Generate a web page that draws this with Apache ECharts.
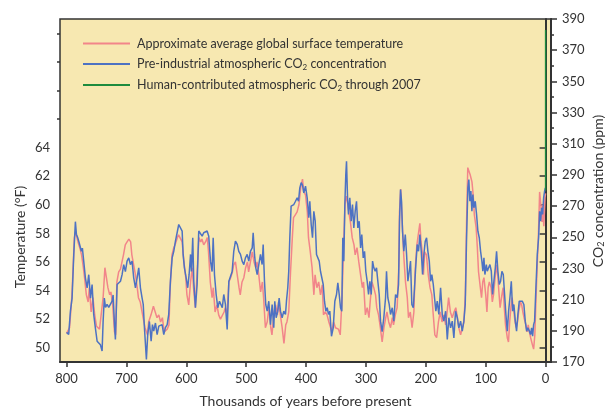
<!DOCTYPE html>
<html><head><meta charset="utf-8">
<script src="https://cdn.jsdelivr.net/npm/echarts@6/dist/echarts.min.js"></script>
<style>html,body{margin:0;padding:0;background:#fff}#c{width:608px;height:408px}</style>
</head><body><div id="c"></div>
<script>
// Temperature (°F), thousands of years before present
const tempAges = [800,795,791,787,785,781,778,775,772,770,767,764,762,759,756,753,750,748,745,742,739,736,734,731,728,726,723,720,718,716,713,710,707,705,702,699,696,693,691,688,685,682,680,677,674,672,669,665,663,659,655,652,649,646,643,640,637,635,632,629,627,624,621,618,615,613,610,607,604,601,599,596,593,590,588,585,582,579,576,574,571,568,565,563,560,557,555,552,549,546,543,540,537,535,532,529,526,523,521,518,515,512,510,507,504,501,498,496,493,490,487,484,482,479,476,473,471,468,465,462,459,457,454,451,448,446,443,440,437,434,432,429,426,423,421,418,415,412,409,406,404,401,398,396,393,390,387,385,382,379,376,373,371,368,365,362,359,357,354,351,348,346,343,340,337,335,333,331,328,326,323,320,318,315,312,309,306,304,301,298,295,293,290,287,284,282,279,276,273,270,267,265,262,259,256,254,251,248,245,244,242,240,237,234,231,229,226,223,220,218,215,212,210,208,206,204,202,199,196,193,190,188,185,182,179,176,173,170,167,165,162,159,156,153,150,148,145,142,139,136.5,134,132,130,128,126,123,121,119,116,114,112,109,107,105,103,100,98,96,94,91,89,87,85,82,80,78,76,73,71,69,67,64,62,60,58,56,53,51,49,47,45,42,40,38,36,33,31,29,27,25,22,20,18,16,14,12,10,8,6,5,3,1,0];
const tempValues = [51.0,51.4,53.7,57.7,58.1,57.4,57.0,56.5,55.6,54.9,53.7,53.2,54.2,52.5,53.5,52.3,51.5,51.4,51.3,51.3,53.5,55.6,55.5,54.2,53.7,53.9,53.0,51.1,50.9,54.6,55.3,55.5,55.6,56.5,57.2,57.4,57.6,57.4,56.5,55.8,55.1,54.2,53.5,53.2,52.5,52.5,51.4,50.9,51.8,52.3,52.9,52.5,52.1,52.3,51.8,52.1,51.1,51.0,51.3,51.6,54.2,56.5,57.0,57.3,57.7,57.9,57.8,57.4,56.0,54.9,53.7,53.0,54.6,55.6,54.2,52.8,55.3,57.7,57.4,57.6,57.2,57.4,57.7,56.7,54.6,53.5,54.2,52.5,53.0,52.3,52.0,52.1,52.5,52.8,52.3,54.6,54.9,55.3,55.8,56.0,55.1,54.2,53.7,54.6,54.9,55.6,56.0,55.3,56.0,56.7,56.0,55.6,56.0,55.1,53.9,54.6,53.5,51.4,51.8,52.8,51.4,50.9,52.3,53.0,52.3,53.2,52.3,51.4,50.3,51.6,51.8,52.5,55.3,57.7,59.1,59.3,59.5,60.0,61.2,61.8,60.9,60.7,59.5,57.7,56.7,55.6,53.7,55.1,54.2,54.6,53.7,54.4,52.3,52.5,52.3,51.8,51.4,51.1,51.8,51.4,51.5,51.3,50.9,53.5,57.5,60.0,60.6,60.2,59.3,58.8,57.7,57.2,56.5,57.0,56.0,55.1,54.2,54.6,52.3,52.8,52.1,53.2,54.6,54.2,53.7,52.8,52.3,51.4,50.4,51.4,52.1,52.5,51.8,51.4,52.1,51.6,52.3,52.8,55.8,59.5,61.1,59.3,56.5,54.6,53.5,52.1,52.5,51.4,52.5,55.3,57.2,58.1,58.7,57.4,56.7,55.1,56.7,56.5,55.1,54.2,53.7,52.5,50.9,50.7,51.8,52.5,51.8,52.3,51.6,52.3,53.5,52.5,52.1,52.5,52.8,52.3,51.4,50.9,50.9,51.8,53.7,58.8,62.6,62.7,62.1,61.6,60.7,59.3,58.4,57.0,55.3,54.2,53.5,54.6,54.9,53.7,52.5,54.2,54.6,54.2,53.2,53.7,54.6,55.8,55.1,53.9,52.8,53.7,54.2,52.8,51.6,50.7,50.4,51.8,52.8,53.5,52.5,51.8,51.4,51.8,52.5,53.2,53.0,52.5,52.1,51.6,51.1,51.6,51.1,50.7,50.2,49.9,50.9,53.5,55.8,57.9,60.9,60.0,58.8,60.0,58.5,60.5,60.8];

// Pre-industrial CO2 (ppm)
const co2Ages = [800,796.5,793.6,790.8,788,785.3,783.6,781.4,779,777,775.3,773.6,771.4,768.6,765.7,763,760,757.4,754.7,752,749,746.4,743.5,740.7,739,737,735,732.4,729.6,726.8,724,722.3,720,718.5,715.6,712.8,710,707.3,704.6,701.8,699,696.2,693.4,690.6,687.9,685,682.2,679.5,676.7,673.9,672,670,666.7,664.5,661.7,658.8,656.6,654.5,651.6,648.8,646,643.3,640.5,637.7,635,632,629.4,626.6,623.7,621,618.2,615.4,612.7,609.9,607,605.4,603.2,600.3,597.7,595.4,593,591.5,589.3,587.6,584.8,582,579.3,576.4,573.6,571,568,565.3,562.6,559.7,557,555.2,553,550.2,547.5,544.7,540,537.5,534.7,531.8,529,526.3,523.5,520.8,518,515,512.4,509.6,506.8,504,501.3,498.4,495.7,493,490,488.4,486.2,484,481.7,479,476.2,473.4,471.7,469.5,467.4,465,462.3,459.5,456.7,454,452.3,450,447.3,445,442.8,440,437.3,434.4,432.8,430.6,429,427.2,425,422.7,420.5,417.7,414.9,412.7,410.5,408.2,406,403.8,401,398.2,395.5,393.8,391.5,389.3,387.1,384.8,382.6,380.5,378.1,376,373.8,371.4,369.3,367,364.8,362.6,360.4,357.6,354.7,352,349.2,347,344.7,342.5,340.4,338.7,337,335.3,333.7,332.5,330.8,329.2,327,324.7,322.5,320.3,318,315.8,313.6,311.3,309,307,304.6,302.4,300.3,298,295.7,293.5,291.2,289,286.9,284.6,282.4,280.2,277.9,275.7,273,270.2,267.3,265.7,263.5,261.2,259,256.1,253.5,250.6,247.8,245.6,244,242.3,240.6,239,236.8,234.4,232.2,230,227.7,225.6,223.4,221,218.9,216.7,214.4,212.2,210,207.7,205.5,203.3,201,198.8,196.6,194.3,192.1,190,187.6,185.5,183.3,181,178.3,175.4,172.6,170,167,164.2,161.6,158.7,155.9,153.2,150.4,147.5,144.9,142,139.2,136.5,134.2,132,129.8,128.2,126.5,124.8,123.1,121.5,119.8,117.5,115.3,113.1,110.8,108.6,106.4,104.8,103,101.4,99,97.4,95.2,93,90.7,88.6,86.4,84,81.9,79.7,77.4,75.2,73,70.7,68.5,66.3,64,61.8,59.6,57.3,55.1,53,50.6,48.5,46.3,44,41.8,39,36.3,34,31.7,29.6,27.2,25.1,23.4,21.7,20,18.4,16.2,13.9,11.7,10,8.4,6.7,5,3.3,1.7,0.5];
const co2Values = [189,187.6,202.6,211,239,260,252,249.7,246.5,247.5,241,243,234.7,224,217.6,226,211,219.7,200.5,192,183.3,182.3,181,177,196,211,205,207,205,206,209,213,194,184.4,219.7,218.6,221.8,226,232.5,228,234.7,236.8,232.5,234.7,224,217.6,224,230.4,217.6,211,207,192,171.6,187.6,196,183.3,194,189.8,195,187.6,193,192,194,187.6,192,194,200.5,221.8,236.8,241,247.5,252.9,258.2,259.3,254,239,230.4,224,217.6,226,239,228,249.7,221.8,204.8,219.7,254,252.9,250.7,252.9,251.8,254,250.7,234.7,228,249.7,226,213.3,204.8,209,204.8,213.3,206.9,190.8,221.8,220.8,228,241,247.5,245.4,241,239,234.7,232.5,236.8,239,234.7,241,243.2,252.9,239,230.4,226,232.5,239,232.5,245.4,221.8,206.9,202.6,209,194,206.9,192,209,198.4,202.6,211,202.6,198.4,202.6,200.5,209,217.6,228,249.7,270,268.9,271,273.1,275.3,273.1,281.7,285,283.5,278.5,282.8,275.3,262.5,273.1,258.2,249.7,266.7,260.3,239,239,234.7,228.2,229.3,219.7,209,202.6,204.8,200.5,202.6,186.5,191.9,209,213.3,220.8,213.3,204.8,202.6,249.7,234.7,271,290.3,298.8,275.3,264.6,275.3,260.3,271,256,266.7,273.1,256,260.3,243.2,251.8,236.8,241,228.2,221.8,213.3,221.8,213.3,234.7,230.4,228.2,230.4,221.8,213.3,196.2,189.5,198.4,211.2,228.2,211.2,206.9,200.5,204.8,196.2,213.3,211.2,219.7,260.3,280.6,273.1,253.9,241,251.8,239,221.8,228.2,234.7,206.9,204.8,217.6,232.5,245.4,241,251.8,241,226.1,239,247.5,249.7,241,234.7,221.8,226.1,219.7,211.2,202.6,209,200.5,217.6,200.5,196.2,202.6,184.4,198.4,191.9,196.2,185.5,202.6,198.4,191.9,196.2,189.8,196.2,206.9,249.7,281.7,287,273.1,279.6,266.7,277.4,268.9,273.1,264.6,253.9,249.7,241,234.7,228.2,236.8,226.1,232.5,228.2,230.4,232.5,228.2,213.3,221.8,230.4,241,228.2,219.7,221.8,228.2,226.1,213.3,200.5,189.8,202.6,211.2,221.8,202.6,206.9,196.2,189.8,200.5,209,209,209,206.9,196.2,189.8,191.9,189.8,187.6,191.9,186.5,194,196.2,217.6,239,249.7,266.7,260.3,268.9,264.6,275.3,279.6,281.7];

// Human-contributed CO2 through 2007
const humanAges = [0, 0];
const humanValues = [280, 383];

// Tick labels
const xTickValues = [0,100,200,300,400,500,600,700,800];
const tempTickValues = [50,52,54,56,58,60,62,64];
const tempMinorTickValues = [66,68,70,72];
const co2TickValues = [170,190,210,230,250,270,290,310,330,350,370,390];
const co2MinorTickValues = [180,200,220,240,260,280,300,320,340,360,380];

const FONT = 'Lato';
const TXT = '#333';
const pairs = (a, b) => a.map((v, i) => [v, b[i]]);

const legendNames = {
  temp: '{a|Approximate average global surface temperature}',
  co2: '{a|Pre-industrial atmospheric CO}{s|2}{a| concentration}',
  human: '{a|Human-contributed atmospheric CO}{s|2}{a| through 2007}'
};

const chart = echarts.init(document.getElementById('c'), null, {renderer: 'canvas'});
chart.setOption({
  animation: false,
  backgroundColor: '#ffffff',
  textStyle: {fontFamily: FONT, color: TXT},
  grid: {left: 60, right: 57, top: 19, bottom: 46, show: true, backgroundColor: '#F7E8B1', borderColor: '#333', borderWidth: 1.5, containLabel: false, outerBoundsMode: 'none'},
  legend: {
    orient: 'vertical', left: 78, top: 32, itemWidth: 47, itemHeight: 2, itemGap: 7.5, icon: 'rect',
    data: ['temp', 'co2', 'human'],
    formatter: n => legendNames[n],
    textStyle: {padding: [0, 0, 0, 2], rich: {
      a: {fontFamily: FONT, fontSize: 12.5, color: TXT, lineHeight: 14},
      s: {fontFamily: FONT, fontSize: 8, color: TXT, lineHeight: 8, verticalAlign: 'bottom'}
    }}
  },
  graphic: [{
    type: 'text', x: 20, y: 237, rotation: Math.PI / 2,
    style: {text: 'Temperature (°F)', fontFamily: FONT, fontSize: 14, fill: TXT, align: 'center', verticalAlign: 'middle'}
  }, {
    type: 'text', x: 598, y: 191, rotation: Math.PI / 2,
    style: {
      text: '{a|CO}{s|2}{a| concentration (ppm)}', align: 'center', verticalAlign: 'middle',
      rich: {
        a: {fontFamily: FONT, fontSize: 14, fill: TXT, lineHeight: 16},
        s: {fontFamily: FONT, fontSize: 9, fill: TXT, lineHeight: 9, verticalAlign: 'bottom'}
      }
    }
  }],
  xAxis: {
    type: 'value', inverse: true, min: -9, max: 811,
    name: 'Thousands of years before present', nameLocation: 'middle', nameGap: 32,
    nameTextStyle: {fontFamily: FONT, fontSize: 14, color: TXT},
    axisLine: {lineStyle: {color: '#333', width: 2}},
    axisTick: {customValues: xTickValues, length: 5, lineStyle: {color: '#333', width: 1.5}},
    axisLabel: {customValues: xTickValues, margin: 10, fontFamily: FONT, fontSize: 13, color: TXT},
    splitLine: {show: false}
  },
  yAxis: [{
    type: 'value', position: 'left', min: 49, max: 73,
    axisLine: {show: true, lineStyle: {color: '#333', width: 2}},
    axisTick: {show: true, customValues: tempTickValues, length: 6, lineStyle: {color: '#333', width: 1.5}},
    axisLabel: {customValues: tempTickValues, margin: 10, fontFamily: FONT, fontSize: 13, color: TXT},
    splitLine: {show: false}
  }, {
    type: 'value', position: 'right', min: 170, max: 390,
    axisLine: {show: true, lineStyle: {color: '#333', width: 2}},
    axisTick: {show: true, customValues: co2TickValues, length: 6, lineStyle: {color: '#333', width: 1.5}},
    axisLabel: {customValues: co2TickValues, margin: 11, fontFamily: FONT, fontSize: 13, color: TXT},
    splitLine: {show: false}
  }, {
    type: 'value', position: 'left', min: 49, max: 73,
    axisLine: {show: false}, axisLabel: {show: false}, splitLine: {show: false},
    axisTick: {show: true, customValues: tempMinorTickValues, length: 3, lineStyle: {color: '#333', width: 1.5}}
  }, {
    type: 'value', position: 'right', min: 170, max: 390,
    axisLine: {show: false}, axisLabel: {show: false}, splitLine: {show: false},
    axisTick: {show: true, customValues: co2MinorTickValues, length: 3, lineStyle: {color: '#333', width: 1.5}}
  }],
  series: [{
    name: 'temp', type: 'line', yAxisIndex: 0, data: pairs(tempAges, tempValues),
    showSymbol: false, symbol: 'none', lineStyle: {color: '#F2858A', width: 1.5}, itemStyle: {color: '#F2858A'}, z: 2
  }, {
    name: 'co2', type: 'line', yAxisIndex: 1, data: pairs(co2Ages, co2Values),
    showSymbol: false, symbol: 'none', lineStyle: {color: '#4D72C3', width: 1.5}, itemStyle: {color: '#4D72C3'}, z: 3
  }, {
    name: 'human', type: 'line', yAxisIndex: 1, data: pairs(humanAges, humanValues),
    showSymbol: false, symbol: 'none', lineStyle: {color: '#1E8B3E', width: 1.5}, itemStyle: {color: '#1E8B3E'}, z: 4
  }]
});
</script></body></html>
